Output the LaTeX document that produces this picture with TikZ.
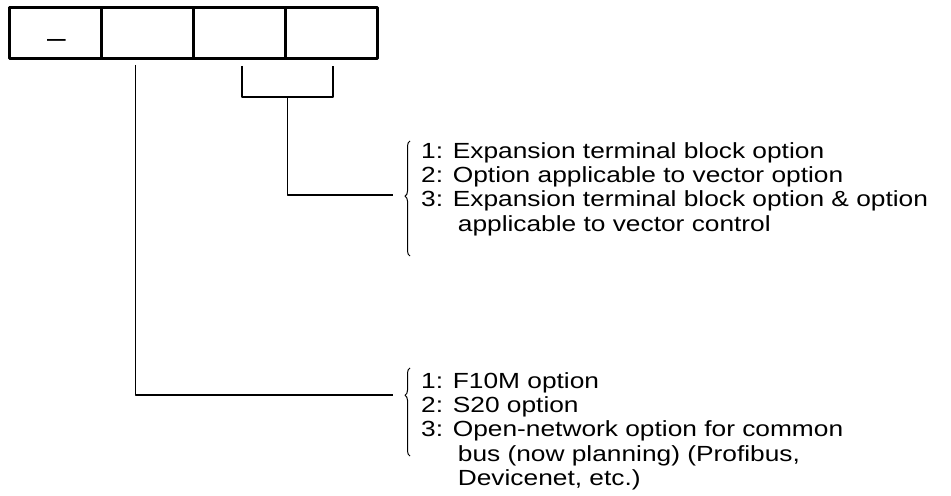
\documentclass[tikz,border=0pt]{standalone}
\usepackage{fontspec}
\setmainfont{Liberation Sans}[FakeStretch=1.2]
\usetikzlibrary{positioning,calc,decorations.pathreplacing}

\begin{document}
\begin{tikzpicture}[x=1bp,y=-1bp,line join=bevel,
  cell/.style={draw,line width=3bp,minimum width=91.75bp,minimum height=51bp,inner sep=0pt,outer sep=0pt},
  wire/.style={line width=1.3bp},
  curly/.style={decorate,decoration={brace,amplitude=5bp,aspect=#1},line width=1bp},
  optlist/.style={anchor=north west,align=left,inner sep=0pt,font=\fontsize{22}{24.4}\selectfont}]
  \useasboundingbox (0,0) rectangle (951,496);
  % Node: code cells
  \node[cell] (c1) at (55.875,33.5) {};
  \node[cell,right=0pt of c1] (c2) {};
  \node[cell,right=0pt of c2] (c3) {};
  \node[cell,right=0pt of c3] (c4) {};
  \node[anchor=base,inner sep=0pt,font=\fontsize{28}{30}\selectfont] (dash) at (56.5,47.5) {\textendash};
  % Node: listA
  \node[optlist] (listA) at (421,142) {1: Expansion terminal block option\\
    2: Option applicable to vector option\\
    3: Expansion terminal block option \& option\\
    \phantom{3: }\hspace{5bp}applicable to vector control};
  % Node: listB
  \node[optlist] (listB) at (421,372) {1: F10M option\\
    2: S20 option\\
    3: Open-network option for common\\
    \phantom{3: }\hspace{5bp}bus (now planning) (Profibus,\\
    \phantom{3: }\hspace{5bp}Devicenet, etc.)};
  % braces in front of the lists
  \draw[curly=0.52] (410,256) -- (410,141);
  \draw[curly=0.69] (410,456) -- (410,368);
  \coordinate (tipA) at (393,195);
  \coordinate (tipB) at (393,395);
  % Edge: c2 -> listB
  \draw[wire] ([shift={(-12,6)}]c2.south) |- (tipB);
  % Edge: c3, c4 -> listA
  \coordinate (legC) at ([shift={(2.5,7)}]c3.south);
  \coordinate (legD) at ([shift={(2,7)}]c4.south);
  \draw[wire] (legC) -- ++(0,31) -| (legD);
  \draw[wire] ($(legC)!0.5!(legD)+(0,31)$) |- (tipA);
\end{tikzpicture}
\end{document}
